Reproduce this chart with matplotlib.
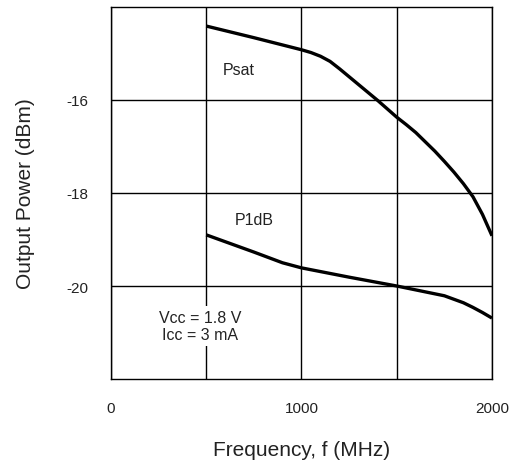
import matplotlib
matplotlib.use('Agg')
import matplotlib.pyplot as plt

plt.rcParams['font.family'] = ['Liberation Sans', 'DejaVu Sans']
plt.rcParams['axes.unicode_minus'] = False

# frequency (MHz) and output power (dBm)
psat_f = [500, 750, 1000, 1050, 1100, 1150, 1200, 1250, 1300, 1350, 1400, 1450, 1500,
          1550, 1600, 1650, 1700, 1750, 1800, 1850, 1900, 1950, 2000]
psat_p = [-14.41, -14.66, -14.92, -14.98, -15.06, -15.17, -15.33, -15.50, -15.67, -15.84,
          -16.01, -16.19, -16.37, -16.53, -16.70, -16.90, -17.10, -17.32, -17.55, -17.80,
          -18.08, -18.46, -18.92]

p1db_f = [500, 750, 900, 1000, 1050, 1100, 1250, 1500, 1750, 1850, 1900, 1950, 2000]
p1db_p = [-18.90, -19.27, -19.50, -19.61, -19.65, -19.69, -19.81, -20.00, -20.21, -20.36,
          -20.46, -20.57, -20.69]

xticks = [0, 500, 1000, 1500, 2000]
xticklabels = ['0', '', '1000', '', '2000']
yticks = [-20, -18, -16]

fig = plt.figure(figsize=(5.11, 4.64), dpi=100)
ax = fig.add_axes([0.2172, 0.181, 0.7456, 0.8018])

ax.plot(psat_f, psat_p, color='black', lw=2.4, solid_capstyle='butt', solid_joinstyle='round')
ax.plot(p1db_f, p1db_p, color='black', lw=2.4, solid_capstyle='butt', solid_joinstyle='round')

ax.set_xlim(0, 2000)
ax.set_ylim(-22, -14)
ax.set_xticks(xticks)
ax.set_xticklabels(xticklabels)
ax.set_yticks(yticks)
ax.tick_params(length=0, labelsize=11, colors='#222222', pad=16)
ax.grid(True, color='black', lw=1)
ax.set_axisbelow(True)
for s in ax.spines.values():
    s.set_linewidth(1.0)

ax.text(588, -15.35, 'Psat', fontsize=11.5, color='#222222', va='center', ha='left')
ax.text(651, -18.56, 'P1dB', fontsize=11.5, color='#222222', va='center', ha='left')
ax.text(467, -20.86, 'Vᴄᴄ = 1.8 V\nIᴄᴄ = 3 mA', fontsize=11.5, color='#222222',
        va='center', ha='center', linespacing=1.2,
        bbox=dict(facecolor='white', edgecolor='none', pad=3))

ax.set_xlabel('Frequency, f (MHz)', fontsize=15, color='#222222', labelpad=18)
ax.set_ylabel('Output Power (dBm)', fontsize=15, color='#222222', labelpad=23)

fig.savefig('out.png', dpi=100)
